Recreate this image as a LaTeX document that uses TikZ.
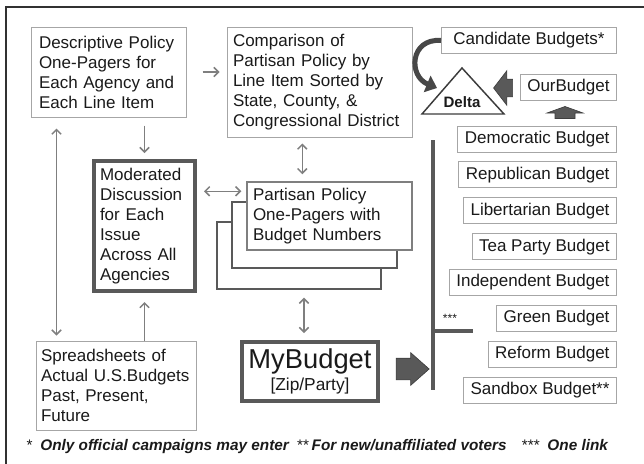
\documentclass[tikz,border=0pt]{standalone}
\usepackage{fontspec}
\setmainfont{Liberation Sans}
\usetikzlibrary{arrows.meta,shapes.arrows}
\definecolor{boxline}{HTML}{A6A6A6}
\definecolor{darkline}{HTML}{595959}
\definecolor{conncol}{HTML}{7F7F7F}
\definecolor{inkcol}{HTML}{1A1A1A}
\newcommand*{\boxfont}{\fontsize{12.75pt}{15pt}\selectfont}
\newcommand*{\notefont}{\fontsize{11.5pt}{13pt}\selectfont}

\begin{document}
\begin{tikzpicture}[x=0.75pt, y=-0.75pt,
    every node/.style={text=inkcol, font=\boxfont},
    txtbox/.style={draw=boxline, line width=0.75pt, fill=white, align=left, inner xsep=4.5pt, inner ysep=0pt},
    thickbox/.style={draw=darkline, line width=3pt, fill=white, inner xsep=4.5pt, inner ysep=0pt},
    pagebox/.style={draw=darkline, line width=1.1pt, fill=white, minimum width=123.75pt},
    budget/.style={draw=boxline, line width=0.75pt, fill=white, inner xsep=5.25pt, inner ysep=0pt, minimum height=19.5pt, anchor=east},
    link/.style={draw=conncol, line width=1.1pt, -{Straight Barb[length=3.5pt,width=7pt]}},
    twolink/.style={link, {Straight Barb[length=3.5pt,width=7pt]}-{Straight Barb[length=3.5pt,width=7pt]}},
    blockarrow/.style={single arrow, fill=darkline, draw=darkline!70!black, line width=0.5pt, inner xsep=0pt},
    blockfill/.style={fill=darkline, draw=darkline!70!black, line width=0.5pt}]

  \useasboundingbox (0,0) rectangle (644,464);
  \draw[line width=1.5pt, draw=inkcol!90] (6,464) -- (6,7) -- (644,7);

  \node[txtbox, inner xsep=6pt, text width=104.25pt, minimum height=67.5pt] (desc) at (108.5,72)
    {Descriptive Policy\\One-Pagers for\\Each Agency and\\Each Line Item};
  \node[txtbox, text width=129.75pt, minimum height=82.5pt] (comp) at (319.5,82)
    {Comparison of\\Partisan Policy by\\Line Item Sorted by\\State, County, \&\\Congressional District};
  \node[thickbox, align=left, text width=66.75pt, minimum height=97.5pt] (mod) at (144.5,226)
    {Moderated\\Discussion\\for Each\\Issue\\Across All\\Agencies};

  \node[pagebox, minimum width=123pt, minimum height=50.25pt] (back3) at (299,255.5) {};
  \node[pagebox, minimum height=49.5pt] (back2) at (314.5,235) {};
  \node[txtbox, draw=conncol, line width=1.1pt, text width=114.75pt, minimum height=51pt] (front) at (329.5,216)
    {Partisan Policy\\One-Pagers with\\Budget Numbers};

  \node[txtbox, inner xsep=3.75pt, text width=112.5pt, minimum height=66.75pt] (sheet) at (116,385.5)
    {Spreadsheets of\\Actual U.S.Budgets\\Past, Present,\\Future};
  \node[thickbox, align=center, minimum width=102pt, minimum height=44.25pt] (my) at (310,371.5)
    {{\fontsize{20.5pt}{22pt}\selectfont MyBudget}\\[2pt]{\fontsize{13pt}{15pt}\selectfont [Zip/Party]}};

  \node[budget, minimum width=131.25pt] (cand) at (617,40.5) {Candidate Budgets*};
  \node[budget] (our) at (617,87) {OurBudget};
  \foreach \name [count=\i] in {Democratic Budget, Republican Budget, Libertarian Budget,
      Tea Party Budget, Independent Budget, Green Budget, Reform Budget, Sandbox Budget**}
  {
    \node[budget] (b\i) at (617, 103.1+35.9*\i) {\name};
  }

  \coordinate (dl) at (422,114);
  \coordinate (dr) at (504,114);
  \coordinate (dt) at (462,68);
  \draw[line width=1.1pt, draw=inkcol!85, fill=white] (dl) -- (dt) -- (dr) -- cycle;
  \node[font=\bfseries\fontsize{11.3pt}{13pt}\selectfont] (delta) at (462,102) {Delta};
  \coordinate (din) at (437,88);
  \draw[darkline!80!black, line width=3.75pt, -{Triangle[length=8pt,width=13pt]}]
    (cand.west) .. controls (410,38) and (408,76) .. (din);

  \node[blockarrow, shape border rotate=180, inner ysep=6.375pt, minimum height=14.25pt,
    single arrow head extend=6.375pt, single arrow tip angle=105] (ourarrow) at (506.5,88) {};
  \coordinate (demtip) at (565,106.5);
  \fill[blockfill] (demtip) -- (583,113) -- (575,113) -- (575,118.5)
    -- (555,118.5) -- (555,113) -- (547,113) -- cycle;
  \node[blockarrow, inner ysep=7.875pt, minimum height=24.75pt,
    single arrow head extend=4.125pt, single arrow tip angle=83] (myarrow) at (406.5,369) {};

  \coordinate (bartop) at (433,140);
  \coordinate (barbot) at (433,390);
  \coordinate (barlink) at (433,331);
  \coordinate (tickend) at (473,331);
  \draw[darkline, line width=3pt] (bartop) -- (barbot) (barlink) -- (tickend);
  \node[font=\fontsize{9pt}{10pt}\selectfont] (onelink) at (450,318) {***};

  \draw[link, shorten <=12pt, shorten >=5.25pt] (desc.east) -- (desc.east -| comp.west);
  \draw[link, shorten <=6pt, shorten >=4.5pt] (mod.north |- desc.south) -- (mod.north);
  \draw[twolink, shorten <=8.25pt, shorten >=3.75pt]
    ([xshift=19.5pt]desc.south west) -- ([xshift=19.5pt]desc.south west |- sheet.north);
  \draw[link, shorten >=6.75pt] (mod.south |- sheet.north) -- (mod.south);
  \draw[twolink, shorten <=5.25pt, shorten >=3.75pt]
    ([yshift=-7.5pt]front.north west -| mod.east) -- ([yshift=-7.5pt]front.north west);
  \draw[twolink, shorten <=4.5pt, shorten >=5.25pt]
    ([xshift=42pt]front.north west |- comp.south) -- ([xshift=42pt]front.north west);
  \draw[twolink, shorten <=6pt, shorten >=5.25pt]
    ([xshift=-4.5pt]my.north |- back3.south) -- ([xshift=-4.5pt]my.north);

  \node[anchor=west, font=\notefont] (notes) at (22,447)
    {*\enspace\textbf{\textit{Only official campaigns may enter}}\enspace
     **\,\textbf{\textit{For new/unaffiliated voters}}\quad
     ***\enspace\textbf{\textit{One link}}};
\end{tikzpicture}
\end{document}
